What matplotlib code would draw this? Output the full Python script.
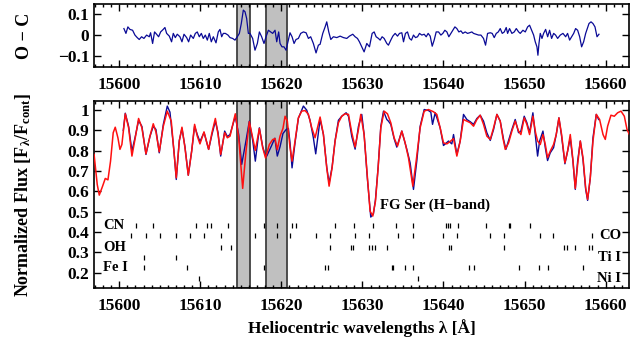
import matplotlib
matplotlib.use('Agg')
import matplotlib.pyplot as plt
from matplotlib.ticker import MultipleLocator, FuncFormatter

plt.rcParams['font.family'] = ['Liberation Serif', 'DejaVu Serif']
plt.rcParams['font.weight'] = 'bold'
plt.rcParams['mathtext.fontset'] = 'custom'
plt.rcParams['mathtext.rm'] = 'Liberation Serif:bold'
plt.rcParams['mathtext.it'] = 'Liberation Serif:bold'
plt.rcParams['mathtext.bf'] = 'Liberation Serif:bold'

# synthetic (model) spectrum
wl_model = [15596.90, 15597.29, 15597.54, 15597.95, 15598.28, 15598.61, 15598.93, 15599.26, 15599.51, 15599.84,
            15600.09, 15600.33, 15600.75, 15601.16, 15601.57, 15601.98, 15602.39, 15602.80, 15603.30, 15603.79,
            15604.20, 15604.53, 15604.94, 15605.44, 15605.93, 15606.42, 15606.75, 15607.04, 15607.41, 15607.74,
            15608.11, 15608.52, 15608.94, 15609.30, 15609.63, 15609.96, 15610.46, 15611.03, 15611.44, 15611.86,
            15612.19, 15612.52, 15613.01, 15613.34, 15613.67, 15614.32, 15614.74, 15615.23, 15615.64, 15616.05,
            15616.47, 15616.79, 15617.29, 15617.70, 15618.05, 15618.52, 15618.93, 15619.22, 15619.50, 15619.84,
            15620.20, 15620.46, 15620.74, 15621.07, 15621.32, 15621.69, 15622.10, 15622.51, 15622.93, 15623.34,
            15623.75, 15624.16, 15624.78, 15625.19, 15625.60, 15625.89, 15626.26, 15626.63, 15627.04, 15627.45,
            15627.86, 15628.28, 15628.69, 15629.10, 15629.51, 15629.80, 15630.21, 15630.62, 15630.95, 15631.28,
            15631.61, 15631.94, 15632.27, 15632.68, 15633.09, 15633.50, 15633.91, 15634.33, 15634.86, 15635.27,
            15635.68, 15636.22, 15636.63, 15637.12, 15637.62, 15638.15, 15638.77, 15639.18, 15639.59, 15640.00,
            15640.42, 15640.83, 15641.24, 15641.65, 15642.06, 15642.47, 15642.88, 15643.30, 15643.71, 15644.12,
            15644.53, 15644.94, 15645.35, 15645.77, 15646.18, 15646.59, 15647.00, 15647.33, 15647.62, 15648.03,
            15648.44, 15648.85, 15649.26, 15649.55, 15649.96, 15650.29, 15650.62, 15651.03, 15651.36, 15651.61,
            15651.94, 15652.27, 15652.56, 15652.84, 15653.17, 15653.58, 15653.91, 15654.24, 15654.57, 15654.98,
            15655.31, 15655.64, 15655.97, 15656.26, 15656.55, 15656.88, 15657.21, 15657.54, 15657.78, 15658.11,
            15658.44, 15658.85, 15659.26, 15659.68, 15659.96, 15660.25, 15660.66, 15661.07, 15661.48, 15661.90,
            15662.31, 15662.64, 15662.93]
flux_model = [0.782, 0.634, 0.582, 0.626, 0.664, 0.657, 0.749, 0.889, 0.916, 0.864,
              0.807, 0.831, 0.982, 0.913, 0.774, 0.864, 0.959, 0.913, 0.785, 0.872,
              0.933, 0.893, 0.795, 0.921, 0.995, 0.946, 0.798, 0.667, 0.848, 0.916,
              0.815, 0.680, 0.798, 0.930, 0.872, 0.834, 0.893, 0.807, 0.889, 0.959,
              0.880, 0.782, 0.889, 0.864, 0.872, 0.982, 0.864, 0.615, 0.798, 0.943,
              0.864, 0.802, 0.910, 0.815, 0.765, 0.831, 0.855, 0.860, 0.805, 0.872,
              0.910, 0.970, 0.946, 0.815, 0.749, 0.848, 0.962, 0.995, 0.998, 0.979,
              0.913, 0.864, 0.966, 0.880, 0.716, 0.626, 0.716, 0.848, 0.938, 0.970,
              0.982, 0.979, 0.889, 0.818, 0.905, 0.979, 0.880, 0.667, 0.503, 0.479,
              0.552, 0.716, 0.913, 0.995, 0.982, 0.938, 0.864, 0.823, 0.897, 0.839,
              0.766, 0.626, 0.749, 0.913, 0.995, 1.003, 0.992, 0.979, 0.913, 0.839,
              0.834, 0.846, 0.860, 0.774, 0.848, 0.954, 0.946, 0.938, 0.921, 0.954,
              0.975, 0.930, 0.872, 0.856, 0.913, 0.979, 0.946, 0.864, 0.807, 0.839,
              0.897, 0.946, 0.897, 0.880, 0.962, 0.930, 0.880, 0.970, 0.889, 0.848,
              0.831, 0.880, 0.831, 0.766, 0.798, 0.831, 0.880, 0.962, 0.880, 0.741,
              0.798, 0.880, 0.754, 0.615, 0.733, 0.848, 0.766, 0.618, 0.561, 0.667,
              0.848, 0.979, 0.954, 0.880, 0.856, 0.921, 0.975, 0.970, 0.987, 0.995,
              0.970, 0.905, 0.880]

# observed spectrum
wl_obs = [15600.50, 15600.75, 15601.16, 15601.57, 15601.98, 15602.39, 15602.80, 15603.30, 15603.79, 15604.20,
          15604.53, 15604.94, 15605.44, 15605.93, 15606.26, 15606.75, 15607.04, 15607.41, 15607.74, 15608.11,
          15608.52, 15608.94, 15609.30, 15609.63, 15609.96, 15610.46, 15611.03, 15611.44, 15611.86, 15612.19,
          15612.52, 15613.01, 15613.34, 15613.67, 15614.32, 15614.74, 15615.11, 15615.64, 15616.05, 15616.47,
          15616.79, 15617.29, 15617.70, 15618.05, 15618.20, 15618.80, 15619.20, 15619.50, 15619.84, 15620.20,
          15620.60, 15620.87, 15621.07, 15621.32, 15621.69, 15622.10, 15622.72, 15623.13, 15623.54, 15623.95,
          15624.24, 15624.78, 15625.19, 15625.60, 15625.89, 15626.26, 15626.63, 15627.04, 15627.45, 15627.99,
          15628.28, 15628.69, 15629.10, 15629.51, 15629.92, 15630.21, 15630.62, 15631.03, 15631.36, 15631.61,
          15631.94, 15632.27, 15632.60, 15633.01, 15633.21, 15633.50, 15633.91, 15634.24, 15634.86, 15635.48,
          15635.89, 15636.30, 15636.71, 15637.12, 15637.62, 15638.15, 15638.44, 15638.65, 15638.98, 15639.59,
          15640.00, 15640.62, 15641.03, 15641.24, 15641.65, 15642.06, 15642.47, 15642.88, 15643.30, 15643.71,
          15644.12, 15644.53, 15644.94, 15645.35, 15645.77, 15646.18, 15646.59, 15647.00, 15647.41, 15647.70,
          15648.03, 15648.44, 15648.85, 15649.26, 15649.55, 15649.96, 15650.29, 15650.62, 15651.03, 15651.36,
          15651.61, 15651.86, 15652.27, 15652.56, 15652.84, 15653.17, 15653.58, 15653.91, 15654.24, 15654.57,
          15654.98, 15655.31, 15655.64, 15655.97, 15656.26, 15656.55, 15656.88, 15657.21, 15657.54, 15657.78,
          15658.11, 15658.44, 15658.85, 15659.14]
flux_obs = [0.900, 0.985, 0.920, 0.798, 0.870, 0.949, 0.920, 0.782, 0.870, 0.921,
            0.905, 0.790, 0.930, 1.020, 0.990, 0.800, 0.659, 0.850, 0.910, 0.820,
            0.680, 0.800, 0.921, 0.880, 0.845, 0.890, 0.807, 0.880, 0.946, 0.890,
            0.774, 0.897, 0.870, 0.880, 0.970, 0.880, 0.733, 0.850, 0.946, 0.850,
            0.749, 0.913, 0.820, 0.774, 0.774, 0.826, 0.862, 0.774, 0.820, 0.885,
            0.905, 0.910, 0.840, 0.716, 0.840, 0.960, 1.020, 1.000, 0.950, 0.864,
            0.785, 0.955, 0.880, 0.720, 0.641, 0.720, 0.850, 0.950, 0.970, 0.987,
            0.970, 0.870, 0.808, 0.920, 0.979, 0.880, 0.660, 0.474, 0.490, 0.560,
            0.720, 0.920, 0.995, 0.954, 0.946, 0.930, 0.860, 0.818, 0.897, 0.807,
            0.740, 0.610, 0.750, 0.920, 1.003, 0.998, 0.990, 0.930, 0.987, 0.913,
            0.826, 0.848, 0.834, 0.880, 0.782, 0.848, 0.979, 0.954, 0.943, 0.930,
            0.959, 0.975, 0.946, 0.889, 0.851, 0.905, 0.979, 0.946, 0.856, 0.807,
            0.851, 0.905, 0.954, 0.889, 0.897, 0.970, 0.938, 0.889, 0.987, 0.864,
            0.774, 0.848, 0.897, 0.815, 0.752, 0.790, 0.815, 0.880, 0.962, 0.872,
            0.736, 0.798, 0.864, 0.749, 0.610, 0.749, 0.848, 0.757, 0.610, 0.556,
            0.667, 0.864, 0.979, 0.954]

# observed minus computed
wl_oc = [15600.58, 15600.83, 15601.07, 15601.32, 15601.65, 15601.94, 15602.22, 15602.47, 15602.76, 15603.05,
         15603.38, 15603.71, 15603.87, 15604.12, 15604.36, 15604.61, 15604.86, 15605.11, 15605.43, 15605.64,
         15605.85, 15606.18, 15606.46, 15606.67, 15606.92, 15607.16, 15607.49, 15607.74, 15607.99, 15608.32,
         15608.56, 15608.81, 15609.14, 15609.39, 15609.63, 15609.88, 15610.13, 15610.37, 15610.62, 15610.87,
         15611.11, 15611.36, 15611.61, 15611.94, 15612.22, 15612.43, 15612.64, 15612.84, 15613.09, 15613.42,
         15613.67, 15613.99, 15614.28, 15614.57, 15614.82, 15615.06, 15615.31, 15615.52, 15615.72, 15615.93,
         15616.13, 15616.46, 15616.75, 15617.04, 15617.29, 15617.57, 15617.86, 15618.11, 15618.40, 15618.69,
         15618.93, 15619.22, 15619.43, 15619.67, 15619.84, 15620.08, 15620.33, 15620.58, 15620.87, 15621.07,
         15621.32, 15621.57, 15621.81, 15622.10, 15622.39, 15622.72, 15623.05, 15623.34, 15623.62, 15623.95,
         15624.28, 15624.57, 15624.78, 15625.11, 15625.40, 15625.60, 15625.85, 15626.10, 15626.42, 15626.84,
         15627.25, 15627.66, 15628.07, 15628.40, 15628.81, 15629.10, 15629.39, 15629.63, 15629.92, 15630.21,
         15630.54, 15630.87, 15631.20, 15631.45, 15631.69, 15631.98, 15632.19, 15632.43, 15632.68, 15633.01,
         15633.21, 15633.50, 15633.75, 15634.04, 15634.33, 15634.57, 15634.86, 15635.07, 15635.31, 15635.56,
         15635.81, 15636.05, 15636.30, 15636.55, 15636.80, 15637.04, 15637.33, 15637.62, 15637.87, 15638.11,
         15638.36, 15638.61, 15638.85, 15639.10, 15639.39, 15639.68, 15639.92, 15640.17, 15640.42, 15640.66,
         15640.91, 15641.16, 15641.41, 15641.65, 15641.90, 15642.15, 15642.39, 15642.68, 15642.97, 15643.22,
         15643.50, 15643.71, 15644.04, 15644.33, 15644.62, 15644.94, 15645.19, 15645.44, 15645.77, 15646.01,
         15646.26, 15646.51, 15646.76, 15647.00, 15647.25, 15647.50, 15647.74, 15647.91, 15648.15, 15648.44,
         15648.73, 15648.98, 15649.27, 15649.47, 15649.80, 15650.09, 15650.38, 15650.62, 15650.87, 15651.12,
         15651.32, 15651.53, 15651.65, 15651.78, 15651.94, 15652.15, 15652.35, 15652.60, 15652.85, 15653.09,
         15653.34, 15653.59, 15653.83, 15654.08, 15654.41, 15654.74, 15655.07, 15655.31, 15655.56, 15655.81,
         15656.06, 15656.30, 15656.55, 15656.80, 15657.04, 15657.29, 15657.54, 15657.70, 15657.95, 15658.20,
         15658.44, 15658.69, 15658.94, 15659.18]
oc = [0.033, 0.010, 0.041, 0.029, 0.025, 0.002, -0.010, -0.019, -0.006, -0.014,
      0.002, -0.006, 0.013, -0.038, 0.017, 0.006, -0.006, 0.017, 0.029, 0.038,
      0.010, -0.003, -0.030, 0.010, -0.010, 0.006, -0.006, -0.030, 0.006, -0.010,
      -0.030, 0.002, -0.014, 0.010, 0.017, -0.006, 0.010, -0.014, 0.002, -0.022,
      0.010, -0.030, -0.006, -0.035, 0.017, 0.029, -0.006, 0.010, 0.010, 0.002,
      -0.010, -0.014, -0.022, -0.006, 0.010, 0.057, 0.121, 0.113, 0.081, 0.010,
      0.010, -0.014, -0.070, -0.038, 0.017, -0.006, -0.038, -0.006, 0.025, 0.017,
      0.010, 0.025, -0.030, 0.017, -0.038, -0.054, -0.054, -0.070, -0.022, 0.013,
      -0.006, -0.038, -0.019, -0.014, 0.010, 0.017, 0.013, -0.014, -0.006, -0.038,
      -0.083, -0.046, -0.042, 0.010, 0.041, 0.065, 0.017, -0.019, -0.006, -0.010,
      -0.003, -0.010, -0.014, -0.003, 0.006, -0.006, -0.014, -0.030, -0.054, -0.078,
      -0.038, -0.054, 0.010, 0.017, -0.006, -0.014, -0.022, -0.006, -0.014, -0.038,
      -0.046, -0.022, -0.003, 0.010, -0.003, 0.010, 0.013, -0.030, 0.010, 0.017,
      -0.014, -0.022, 0.002, -0.010, -0.006, 0.010, 0.002, 0.006, -0.006, 0.010,
      -0.003, -0.051, -0.022, 0.017, 0.017, 0.002, 0.010, 0.025, 0.017, -0.006,
      0.010, 0.025, 0.041, 0.033, 0.017, 0.022, 0.010, 0.017, 0.010, 0.013,
      0.017, 0.010, 0.006, 0.002, 0.002, -0.014, -0.046, 0.010, 0.013, 0.010,
      -0.010, 0.010, 0.017, 0.033, 0.010, 0.017, 0.038, 0.010, 0.033, 0.010,
      0.017, 0.033, 0.017, 0.010, 0.025, 0.017, 0.041, 0.049, 0.025, 0.002,
      -0.030, -0.054, -0.094, -0.038, 0.010, -0.014, 0.010, 0.029, -0.006, 0.025,
      -0.014, 0.010, 0.002, -0.014, 0.002, 0.010, -0.006, 0.010, -0.022, -0.006,
      0.010, 0.033, 0.025, -0.006, -0.054, -0.030, 0.010, 0.029, 0.057, 0.065,
      0.057, 0.041, -0.006, 0.006]

# excluded regions
masks = [(15614.5, 15616.1), (15618.15, 15620.7)]

# line identifications: name, row level, wavelengths
species = ['CN', 'CO', 'OH', 'Ti I', 'Fe I', 'Ni I']
levels = [0.434, 0.382, 0.323, 0.274, 0.225, 0.172]
lines_cn = [15602.02, 15604.20, 15609.43, 15610.87, 15611.36, 15613.46, 15617.86, 15619.43, 15621.36, 15621.86,
            15626.63, 15628.98, 15631.36, 15634.16, 15636.22, 15640.33, 15640.58, 15640.83, 15641.77, 15645.27,
            15648.03, 15648.23, 15650.70]
lines_co = [15601.49, 15603.26, 15605.02, 15606.96, 15608.73, 15610.46, 15612.51, 15616.75, 15619.51, 15621.07,
            15624.24, 15625.97, 15629.10, 15630.87, 15634.45, 15636.22, 15639.92, 15641.65, 15645.77, 15647.49,
            15651.94, 15653.50, 15658.32]
lines_oh = [15612.51, 15613.75, 15626.01, 15628.64, 15628.85, 15630.87, 15631.16, 15631.57, 15633.01, 15640.62,
            15640.91, 15647.49, 15654.90, 15655.23, 15656.26, 15657.90, 15658.32]
lines_ti = [15603.05, 15606.96]
lines_fe = [15603.05, 15608.40, 15617.86, 15625.40, 15625.75, 15633.63, 15633.83, 15635.27, 15636.18, 15643.21,
            15643.71, 15649.26, 15651.73, 15652.84, 15657.21]
lines_ni = [15609.84, 15636.81]
line_lists = [lines_cn, lines_co, lines_oh, lines_ti, lines_fe, lines_ni]


def fmt(v, pos):
    return ('%g' % round(v, 3)).replace('-', '\u2212')


def style(ax):
    ax.set_xlim(15596.9, 15662.9)
    ax.xaxis.set_major_locator(MultipleLocator(10))
    ax.xaxis.set_minor_locator(MultipleLocator(1))
    ax.yaxis.set_major_formatter(FuncFormatter(fmt))
    ax.tick_params(which='both', direction='in', top=True, right=True, labelsize=12.5, width=1)
    ax.tick_params(which='major', length=5)
    ax.tick_params(which='minor', length=2.5)
    ax.tick_params(axis='x', pad=7)
    for s in ax.spines.values():
        s.set_linewidth(1.2)
    for a, b in masks:
        ax.axvspan(a, b, facecolor='#c0c0c0', edgecolor='#404040', lw=1.3, zorder=1)


fig = plt.figure(figsize=(6.4, 3.48), dpi=100)
ax1 = fig.add_axes([0.147, 0.8075, 0.836, 0.181])
ax2 = fig.add_axes([0.147, 0.1724, 0.836, 0.5374])

style(ax1)
ax1.plot(wl_oc, oc, color='#0a0a96', lw=0.9, zorder=3)
ax1.set_ylim(-0.15, 0.15)
ax1.yaxis.set_major_locator(MultipleLocator(0.1))
ax1.set_ylabel('O \u2212 C', fontsize=13, fontweight='bold')
ax1.yaxis.set_label_coords(-0.115, 0.5)

style(ax2)
ax2.plot(wl_obs, flux_obs, color='#0a0a96', lw=1.0, zorder=3)
ax2.plot(wl_model, flux_model, color='#ff1010', lw=1.1, zorder=4)
ax2.set_ylim(0.125, 1.045)
ax2.yaxis.set_major_locator(MultipleLocator(0.1))
ax2.set_ylabel(r'Normalized Flux [F$_\lambda$/F$_{cont}$]', fontsize=13, fontweight='bold')
ax2.yaxis.set_label_coords(-0.115, 0.5)
ax2.set_xlabel('Heliocentric wavelengths \u03bb [\u00c5]', fontsize=12.5, fontweight='bold')
ax2.xaxis.set_label_coords(0.5, -0.215)
ax2.xaxis.label.set_va('center')

for lst, lev in zip(line_lists, levels):
    ax2.vlines(lst, lev - 0.013, lev + 0.013, color='k', lw=0.9, zorder=5)

for name, lev in zip(species[0::2], levels[0::2]):
    ax2.text(15598.0, lev, name, fontsize=10.5, fontweight='bold', ha='left', va='center')
for name, lev in zip(species[1::2], levels[1::2]):
    ax2.text(15661.9, lev, name, fontsize=10.5, fontweight='bold', ha='right', va='center')

ax2.text(15639.0, 0.531, 'FG Ser (H\u2212band)', fontsize=10.5, fontweight='bold', ha='center', va='center')

fig.savefig('out.png', dpi=100)
